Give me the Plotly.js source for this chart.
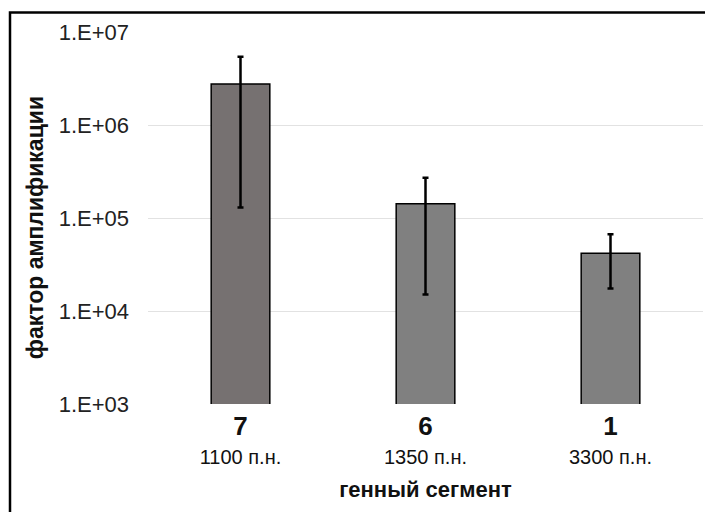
<!DOCTYPE html>
<html>
<head>
<meta charset="utf-8">
<script src="https://cdn.plot.ly/plotly-3.0.1.min.js"></script>
<style>html,body{margin:0;padding:0;background:#fff;}#chart{width:705px;height:512px;}</style>
</head>
<body>
<div id="chart"></div>
<script>
// Data
const segments = ["7", "6", "1"];
const lengths = ["1100 п.н.", "1350 п.н.", "3300 п.н."];
const factors = [2.76e6, 1.42e5, 4.17e4];
const errPlus = [2.66e6, 1.29e5, 2.51e4];
const errMinus = [2.63e6, 1.27e5, 2.42e4];
const barColors = ["#767171", "#808080", "#808080"];
const yTickVals = [1e3, 1e4, 1e5, 1e6, 1e7];
const yTickText = ["1.E+03", "1.E+04", "1.E+05", "1.E+06", "1.E+07"];

const tickText = segments.map((s, i) =>
  "<b><span style='font-size:26px'>" + s + "</span></b><br><span style='font-size:20px'>" + lengths[i] + "</span>");

const trace = {
  type: "bar",
  x: segments,
  y: factors,
  marker: {color: barColors, line: {color: "#000", width: 1.5}},
  error_y: {type: "data", symmetric: false, array: errPlus, arrayminus: errMinus,
            color: "#000", thickness: 2.5, width: 3},
  width: 0.317,
  hoverinfo: "none"
};

const L = 148, R = 703, T = 32, B = 404;
const layout = {
  width: 705, height: 512,
  margin: {l: L, r: 705 - R, t: T, b: 512 - B, pad: 0},
  paper_bgcolor: "#fff", plot_bgcolor: "#fff",
  showlegend: false,
  font: {family: "Liberation Sans, Arial, sans-serif", color: "#222"},
  xaxis: {
    type: "category",
    tickmode: "array", tickvals: segments, ticktext: tickText,
    tickfont: {size: 22, color: "#111"},
    showgrid: false, showline: false, ticks: "", zeroline: false,
    ticklabelstandoff: 8,
    title: {text: "<b>генный сегмент</b>", font: {size: 22, color: "#111"}, standoff: 15}
  },
  yaxis: {
    type: "log", range: [3, 7],
    tickmode: "array", tickvals: yTickVals, ticktext: yTickText,
    tickfont: {size: 22, color: "#222"},
    showgrid: true, gridcolor: "#e2e2e2", gridwidth: 1,
    showline: false, ticks: "", zeroline: false,
    ticklabelstandoff: 18,
    title: {text: "<b>фактор амплификации</b>&nbsp;&nbsp;&nbsp;", font: {size: 23, color: "#111"}, standoff: 8}
  },
  shapes: [{
    type: "rect", xref: "paper", yref: "paper", layer: "above",
    x0: (10 - L) / (R - L), x1: 1.1,
    y0: -0.6, y1: (B - 12.5) / (B - T),
    line: {color: "#000", width: 2.5}, fillcolor: "rgba(0,0,0,0)"
  }]
};

Plotly.newPlot("chart", [trace], layout, {staticPlot: true, displayModeBar: false});
</script>
</body>
</html>
